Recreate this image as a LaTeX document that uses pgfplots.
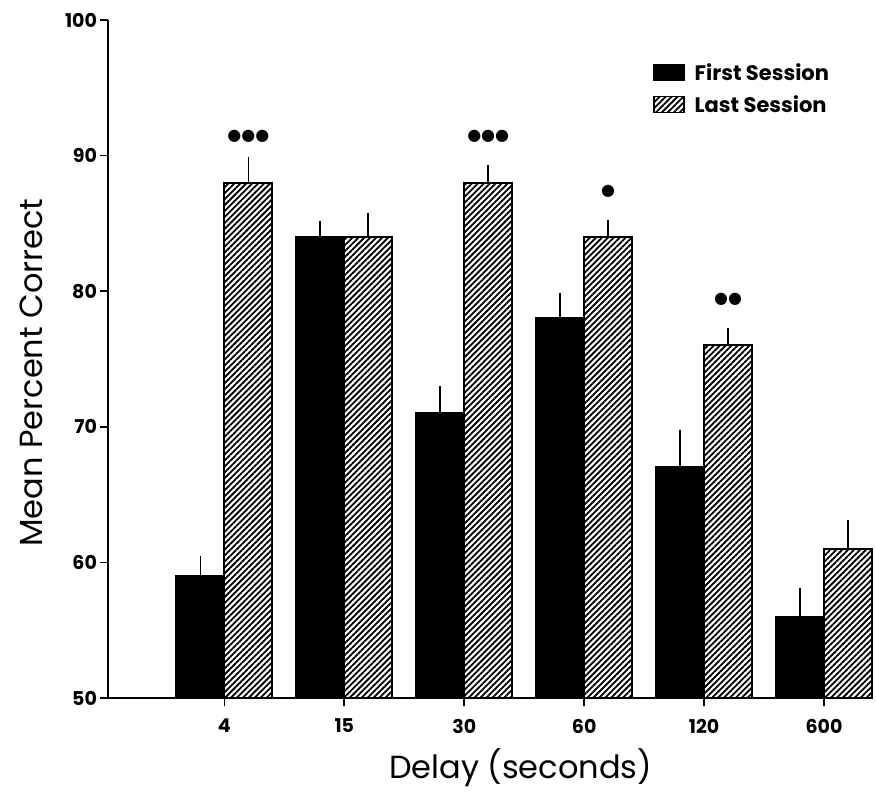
\documentclass[border=0pt]{standalone}
\usepackage{pgfplots}
\usepackage{pgfplotstable}
\pgfplotsset{compat=1.18}
\usepackage{fontspec}
\setmainfont{Poppins}
\newfontfamily\dejavu{DejaVu Sans}
\usetikzlibrary{patterns.meta}

\pgfplotstableread{
x y err
0 59 1.5
1 84 1.2
2 71 2.0
3 78 1.9
4 67 2.8
5 56 2.1
}\firstsession

\pgfplotstableread{
x y err lab
0 88 1.9 ●●●
1 84 1.8 {}
2 88 1.3 ●●●
3 84 1.25 ●
4 76 1.3 ●●
5 61 2.1 {}
}\lastsession

\begin{document}
\begin{tikzpicture}
\begin{axis}[
  scale only axis,
  width=382pt, height=339pt,
  ybar, bar width=24pt,
  xmin=-0.97, xmax=5.4,
  ymin=50, ymax=100,
  axis x line*=bottom, axis y line*=left,
  axis line style={-, line width=1pt, black},
  xtick={0,1,2,3,4,5},
  xticklabels={4,15,30,60,120,600},
  ytick={50,60,70,80,90,100},
  tick align=outside,
  major tick length=4pt,
  tick style={line width=0.8pt, black},
  /pgf/number format/assume math mode=true,
  ticklabel style={font=\bfseries\fontsize{9.5}{11}\selectfont},
  xticklabel style={yshift=-3pt},
  yticklabel style={xshift=2pt},
  xlabel={Delay (seconds)},
  ylabel={Mean Percent Correct},
  label style={font=\fontsize{16}{19}\selectfont},
  xlabel style={at={(axis description cs:0.54,-0.103)}, anchor=center},
  ylabel style={at={(axis description cs:-0.10,0.48)}, anchor=center},
  legend style={at={(0.705,0.948)}, anchor=north west, draw=none, fill=none,
    font=\bfseries\fontsize{10.5}{12}\selectfont, row sep=2pt,
    legend cell align=left,
    nodes={inner xsep=5pt}},
  legend image code/.code={\draw[#1, line width=0.8pt] (0pt,-3.5pt) rectangle (15pt,4.5pt);},
  clip=false,
]
\addplot[fill=black, draw=black, line width=1pt, bar shift=-12pt,
  error bars/.cd, y dir=plus, y explicit, error mark=none,
  error bar style={line width=0.8pt, black}]
  table[x=x, y=y, y error=err] {\firstsession};
\addlegendentry{First Session}
\addplot[draw=black, line width=1pt, bar shift=12pt,
  pattern={Lines[angle=45, distance=2.1pt, line width=0.9pt]},
  point meta=explicit symbolic,
  nodes near coords={\dejavu\fontsize{8}{8}\selectfont\pgfplotspointmeta},
  every node near coord/.append style={anchor=center, yshift=23pt, inner sep=0pt},
  error bars/.cd, y dir=plus, y explicit, error mark=none,
  error bar style={line width=0.8pt, black}]
  table[x=x, y=y, y error=err, meta=lab] {\lastsession};
\addlegendentry{Last Session}
\end{axis}
\pgfresetboundingbox
\path[use as bounding box] (current axis.south west) ++(-54pt,-50pt) rectangle ++(438pt,399pt);
\end{tikzpicture}
\end{document}
